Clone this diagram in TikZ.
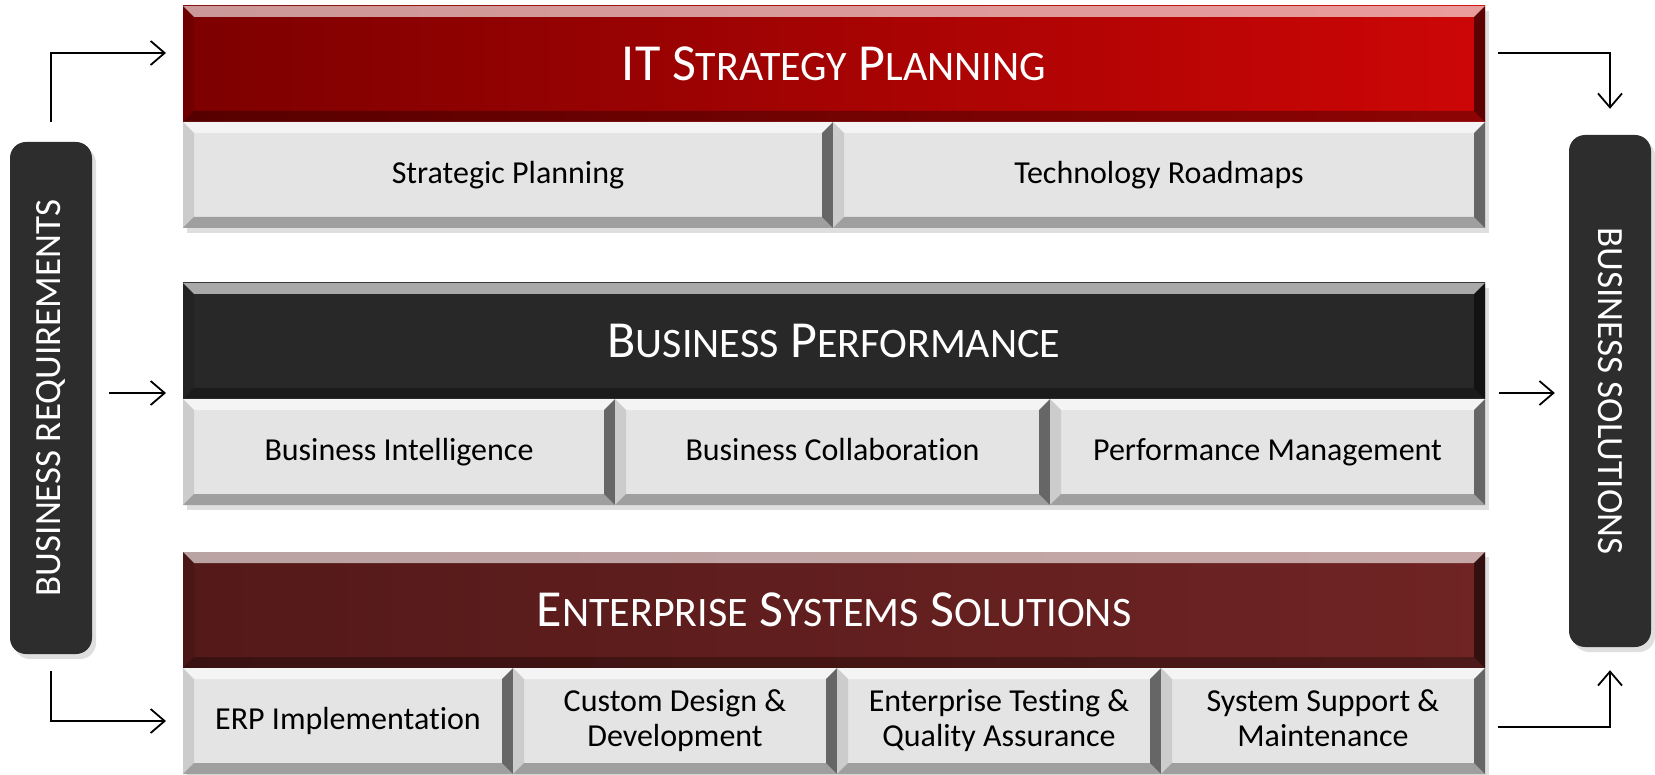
\documentclass[tikz,border=0pt]{standalone}
\usepackage{fontspec}
\setmainfont{Carlito}[Ligatures=CommonOff]
\usepackage{graphicx}
\usetikzlibrary{arrows.meta}
\usetikzlibrary{shadows}
\usetikzlibrary{positioning}

\definecolor{itredA}{RGB}{125,0,0}
\definecolor{itredB}{RGB}{205,6,6}
\definecolor{bpA}{RGB}{40,40,40}
\definecolor{bpB}{RGB}{60,60,60}
\definecolor{essA}{RGB}{84,25,25}
\definecolor{essB}{RGB}{112,36,36}
\definecolor{cellgray}{RGB}{228,228,228}
\definecolor{sidegray}{RGB}{45,45,45}

\newcommand\capword[2]{#1{\fontsize{42}{42}\selectfont #2}}

\tikzset{
  bevel/.style={path picture={
    \coordinate (bnw) at (path picture bounding box.north west);
    \coordinate (bne) at (path picture bounding box.north east);
    \coordinate (bsw) at (path picture bounding box.south west);
    \coordinate (bse) at (path picture bounding box.south east);
    \fill[white,opacity=.6] (bnw) -- (bne) -- ([shift={(-#1,-#1)}]bne) -- ([shift={(#1,-#1)}]bnw) -- cycle;
    \fill[black,opacity=.1] (bnw) -- ([shift={(#1,-#1)}]bnw) -- ([shift={(#1,#1)}]bsw) -- (bsw) -- cycle;
    \fill[black,opacity=.55] (bse) -- ([shift={(-#1,#1)}]bse) -- ([shift={(-#1,-#1)}]bne) -- (bne) -- cycle;
    \fill[black,opacity=.3] (bsw) -- ([shift={(#1,#1)}]bsw) -- ([shift={(-#1,#1)}]bse) -- (bse) -- cycle;
  }},
  bevel/.default=11pt,
  shade/.style={drop shadow={shadow xshift=4pt,shadow yshift=-5pt,opacity=.25}},
  header/.style={anchor=north west, minimum width=1302pt, minimum height=116pt, inner sep=0pt, outer sep=0pt,
    text=white, font=\fontsize{52}{52}\selectfont, shade, bevel},
  cell/.style={anchor=north west, fill=cellgray, minimum width=#1, minimum height=106pt, inner sep=0pt, outer sep=0pt,
    align=center, font=\fontsize{32}{35}\selectfont, execute at end node=\vphantom{g}, shade, bevel=11pt},
  side/.style={fill=sidegray, rounded corners=16pt, minimum width=82pt, minimum height=512pt, inner sep=0pt,
    text=white, font=\fontsize{37}{37}\selectfont, shade},
  arr/.style={-{Straight Barb[length=14pt,width=24pt]}, line width=1.8pt},
}

\begin{document}
\begin{tikzpicture}[x=1pt, y=-1pt]
	\useasboundingbox (0,0) rectangle (1655,775);

	\node[header, left color=itredA, right color=itredB] (itsp) at (183,6) {\capword{IT}{} \capword{S}{TRATEGY} \capword{P}{LANNING}};
	\node[cell=650pt] (stratplan) at (itsp.south west) {Strategic Planning};
	\node[cell=652pt] (techmap) at (stratplan.north east) {Technology Roadmaps};

	\node[header, left color=bpA, middle color=bpB, right color=bpA] (bp) at (183,283) {\capword{B}{USINESS} \capword{P}{ERFORMANCE}};
	\node[cell=432pt] (bi) at (bp.south west) {Business Intelligence};
	\node[cell=435pt] (bc) at (bi.north east) {Business Collaboration};
	\node[cell=435pt] (pm) at (bc.north east) {Performance Management};

	\node[header, left color=essA, right color=essB] (ess) at (183,552) {\capword{E}{NTERPRISE} \capword{S}{YSTEMS} \capword{S}{OLUTIONS}};
	\node[cell=330pt] (erp) at (ess.south west) {ERP Implementation};
	\node[cell=324pt] (cdd) at (erp.north east) {Custom Design \&\\Development};
	\node[cell=324pt] (etqa) at (cdd.north east) {Enterprise Testing \&\\Quality Assurance};
	\node[cell=324pt] (ssm) at (etqa.north east) {System Support \&\\Maintenance};

	\node[side] (busreq) at (51,398) {\rotatebox{90}{BUSINESS REQUIREMENTS}};
	\node[side] (bussol) at (1610,391) {\rotatebox{-90}{BUSINESS SOLUTIONS}};

	\coordinate (bpl) at ([yshift=6pt]bp.south west);
	\coordinate (bpr) at ([yshift=6pt]bp.south east);

	\draw[arr, shorten <=20pt, shorten >=17pt] (busreq.north) |- ([yshift=11pt]itsp.west);
	\draw[arr, shorten <=17pt, shorten >=17pt] (bpl -| busreq.east) -- (bpl);
	\draw[arr, shorten <=17pt, shorten >=17pt] (busreq.south) |- (erp.west);
	\draw[arr, shorten <=13pt, shorten >=26pt] ([yshift=11pt]itsp.east) -| (bussol.north);
	\draw[arr, shorten <=14pt, shorten >=14pt] (bpr) -- (bpr -| bussol.west);
	\draw[arr, shorten <=13pt, shorten >=23pt] ([yshift=-6pt]ssm.east) -| (bussol.south);
\end{tikzpicture}
\end{document}
